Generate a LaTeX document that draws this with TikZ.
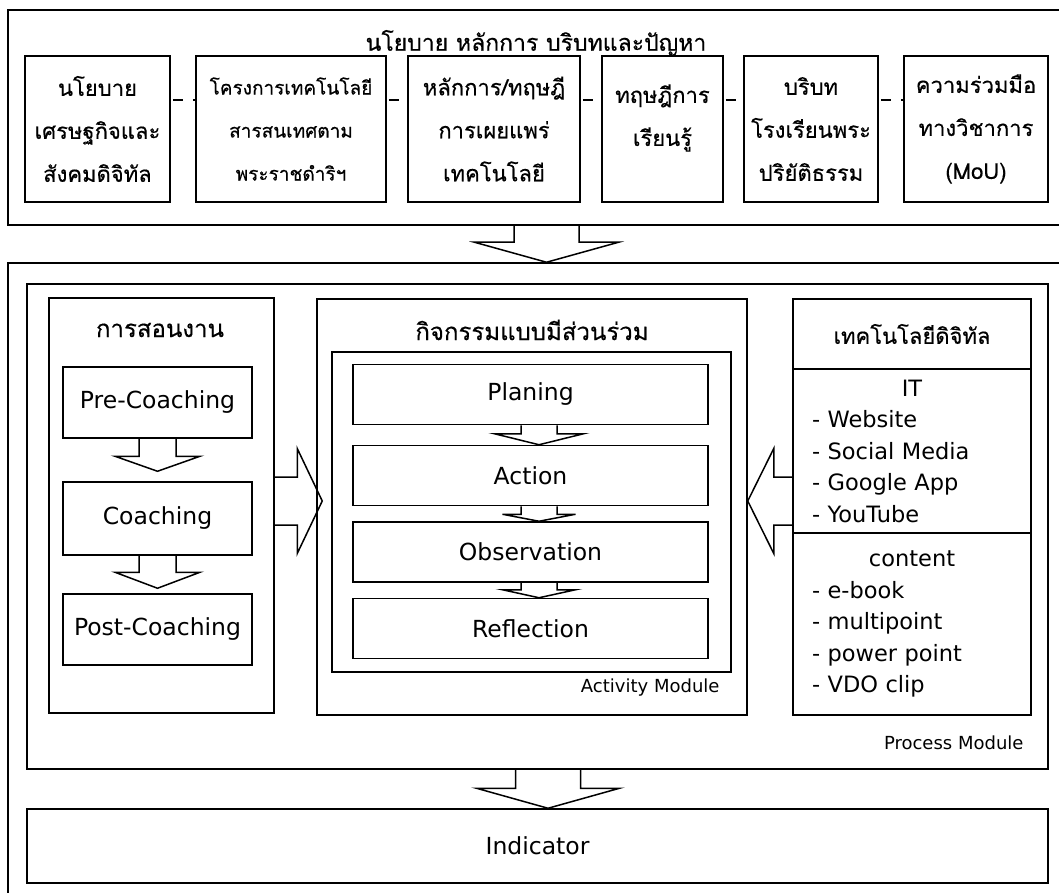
\documentclass[tikz,border=0pt]{standalone}
\usepackage{fontspec}
\setmainfont{DejaVu Sans}
\newfontfamily\thai[Script=Thai,FakeBold=0.4]{Loma}
\usetikzlibrary{calc}
\tikzset{
  frame/.style={draw,line width=1.5pt,inner sep=0pt},
  tbox/.style={frame,align=center,font=\thai\fontsize{22}{43}\selectfont},
  thead/.style={font=\thai\fontsize{24}{28}\selectfont},
  ebox/.style={frame,font=\fontsize{23.5}{28}\selectfont},
  lst/.style={frame,text width=200pt,align=left,font=\fontsize{22.5}{31.5}\selectfont},
  modlbl/.style={anchor=east,font=\fontsize{18}{20}\selectfont},
  blockar/.style={draw,line width=1.5pt,line join=miter},
  dashln/.style={line width=1.5pt,dash pattern=on 10pt off 10pt,dash phase=18pt},
}
% hollow block arrow: tail, tip, half shaft, half head, head length
\newcommand{\blockarrow}[5]{%
  \coordinate (ba-h) at ($#2!#5!#1$);
  \draw[blockar] ($#1!#3!90:#2$) -- ($(ba-h)!#3!90:#2$) -- ($(ba-h)!#4!90:#2$)
    -- #2 -- ($(ba-h)!#4!-90:#2$) -- ($(ba-h)!#3!-90:#2$) -- ($#1!#3!-90:#2$);}

\begin{document}
\begin{tikzpicture}[x=1pt,y=-1pt]
  \clip (0,0) rectangle (1059,893);
  % policy, principles, context and problems
  \node[frame,minimum width=1067,minimum height=215] (top) at (541.5,117.5) {};
  \node[thead,font=\thai\fontsize{23}{27}\selectfont] (ttl) at (536,43) {นโยบาย หลักการ บริบทและปัญหา};
  \node[tbox,minimum width=145,minimum height=146] (b1) at (97.5,129) {นโยบาย\\เศรษฐกิจและ\\สังคมดิจิทัล};
  \node[tbox,minimum width=190,minimum height=146,font=\thai\fontsize{19}{43}\selectfont] (b2) at (291,129) {โครงการเทคโนโลยี\\สารสนเทศตาม\\พระราชดำริฯ};
  \node[tbox,minimum width=172,minimum height=146] (b3) at (494,129) {หลักการ/ทฤษฎี\\การเผยแพร่\\เทคโนโลยี};
  \node[frame,minimum width=121,minimum height=146,
    label={[align=center,font=\thai\fontsize{22}{43}\selectfont,yshift=11pt]center:ทฤษฎีการ\\เรียนรู้}] (b4) at (662.5,129) {};
  \node[tbox,minimum width=134,minimum height=146] (b5) at (811,129) {บริบท\\โรงเรียนพระ\\ปริยัติธรรม};
  \node[tbox,minimum width=144,minimum height=146] (b6) at (976,129) {ความร่วมมือ\\ทางวิชาการ\\(MoU)};
  \foreach \i/\j in {1/2,2/3,3/4,4/5,5/6}
    \draw[dashln] ([yshift=29pt]b\i.east) -- ([yshift=29pt]b\j.west);

  % process module
  \node[frame,minimum width=1067,minimum height=660] (outer) at (541.5,593) {};
  \node[frame,minimum width=1021,minimum height=485] (proc) at (537.5,526.5) {};
  \node[modlbl] (pm) at (1027,743) {Process Module};
  \node[ebox,minimum width=1021,minimum height=74] (ind) at (537.5,846) {Indicator};

  % coaching
  \node[frame,minimum width=225,minimum height=415] (lcol) at (161.5,505.5) {};
  \node[thead] (lttl) at (160,330) {การสอนงาน};
  \node[ebox,minimum width=189,minimum height=71] (pre) at (157.5,402.5) {Pre-Coaching};
  \node[ebox,minimum width=189,minimum height=73] (coa) at (157.5,518.5) {Coaching};
  \node[ebox,minimum width=189,minimum height=71] (post) at (157.5,629.5) {Post-Coaching};

  % participatory activity
  \node[frame,minimum width=430,minimum height=416] (act) at (532,507) {};
  \node[thead] (attl) at (532,330) {กิจกรรมแบบมีส่วนร่วม};
  \node[frame,minimum width=399,minimum height=320] (inner) at (531.5,512) {};
  \node[modlbl] (am) at (723,688) {Activity Module};
  \foreach \nm/\cy/\txt in {plan/394.5/Planing,actn/475.5/Action,obs/552/Observation,refl/628.5/Reflection}
    \node[ebox,minimum width=355,minimum height=60] (\nm) at (530.5,\cy) {\txt};

  % digital technology
  \node[frame,minimum width=238,minimum height=70,font=\thai\fontsize{22}{26}\selectfont] (dh) at (912,334) {เทคโนโลยีดิจิทัล};
  \node[lst,minimum width=238,minimum height=164] (dit) at (912,451)
    {\null\hfill IT\hfill\null\\- Website\\- Social Media\\- Google App\\- YouTube};
  \node[lst,minimum width=238,minimum height=182] (dct) at (912,624)
    {\null\hfill content\hfill\null\\- e-book\\- multipoint\\- power point\\- VDO clip};

  % block arrows
  \blockarrow{([xshift=5pt]top.south)}{([xshift=5pt]outer.north)}{32.5pt}{72pt}{20pt}
  \blockarrow{([xshift=10.5pt]proc.south)}{([xshift=10.5pt]ind.north)}{32.5pt}{71.5pt}{20pt}
  \blockarrow{(pre.south)}{([yshift=10pt]coa.north)}{18.5pt}{42.5pt}{15pt}
  \blockarrow{(coa.south)}{([yshift=5pt]post.north)}{18.5pt}{42.5pt}{16pt}
  \blockarrow{([xshift=8.5pt]plan.south)}{([xshift=8.5pt]actn.north)}{18pt}{44.5pt}{11pt}
  \blockarrow{([xshift=8.5pt]actn.south)}{([xshift=8.5pt]obs.north)}{18pt}{36.5pt}{7pt}
  \blockarrow{([xshift=8.5pt]obs.south)}{([xshift=8.5pt]refl.north)}{18pt}{36.5pt}{8pt}
  \blockarrow{($(act.west -| lcol.east)+(0,-6)$)}{($(act.west)+(6,-6)$)}{24pt}{52.5pt}{25pt}
  \blockarrow{($(act.east -| dit.west)+(0,-6)$)}{($(act.east)+(0,-6)$)}{24pt}{52.5pt}{26pt}
\end{tikzpicture}
\end{document}
